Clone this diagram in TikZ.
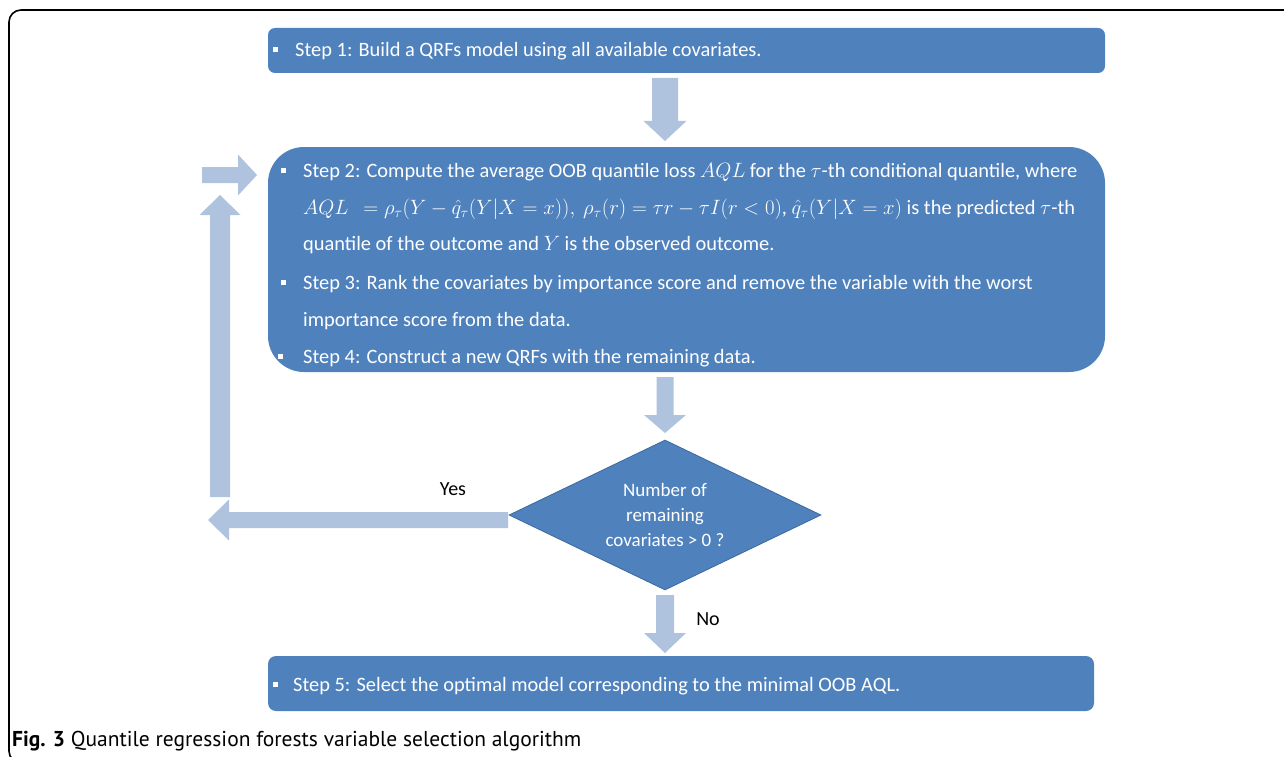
\documentclass[tikz,border=0pt]{standalone}
\usepackage{fontspec}
\setmainfont{Carlito}
\newfontfamily\capfont{PT Sans}
\definecolor{boxblue}{HTML}{4F81BD}
\definecolor{arrowblue}{HTML}{AFC3DF}
\definecolor{diaedge}{HTML}{3C6AA0}
\usetikzlibrary{shapes.geometric}
\tikzset{
  stepbox/.style={rectangle, fill=boxblue, inner sep=0pt},
  bulletsq/.style={rectangle, fill=white, minimum size=5pt, inner sep=0pt},
  steptext/.style={anchor=base west, inner sep=0pt, text=white},
  lbl/.style={inner sep=0pt, text=black},
  blk/.style={fill=arrowblue}
}
\newcommand\blkdown[6]{\fill[blk] (#1-#4,#2) -- (#1+#4,#2) -- (#1+#4,#3-#6) -- (#1+#5,#3-#6) -- (#1,#3) -- (#1-#5,#3-#6) -- (#1-#4,#3-#6) -- cycle;}
\newcommand\blkup[6]{\fill[blk] (#1-#4,#2) -- (#1+#4,#2) -- (#1+#4,#3+#6) -- (#1+#5,#3+#6) -- (#1,#3) -- (#1-#5,#3+#6) -- (#1-#4,#3+#6) -- cycle;}
\newcommand\blkright[6]{\fill[blk] (#2,#1-#4) -- (#2,#1+#4) -- (#3-#6,#1+#4) -- (#3-#6,#1+#5) -- (#3,#1) -- (#3-#6,#1-#5) -- (#3-#6,#1-#4) -- cycle;}
\newcommand\blkleft[6]{\fill[blk] (#2,#1-#4) -- (#2,#1+#4) -- (#3+#6,#1+#4) -- (#3+#6,#1+#5) -- (#3,#1) -- (#3+#6,#1-#5) -- (#3+#6,#1-#4) -- cycle;}
\begin{document}
\begin{tikzpicture}[x=1pt,y=-1pt,font=\fontsize{20.4}{24}\selectfont]
\useasboundingbox (0,0) rectangle (1284,757);
\begin{scope}
\clip (0,0) rectangle (1284,757);
\draw[line width=1.6pt, rounded corners=12pt] (9,10) rectangle (1320,763);
\end{scope}

% boxes
\node[stepbox, minimum width=837pt, minimum height=45pt, rounded corners=7pt] (s1) at (686.5,50.5) {};
\node[stepbox, minimum width=837pt, minimum height=225pt, rounded corners=36pt] (s2) at (686.5,259.5) {};
\node[stepbox, minimum width=826pt, minimum height=55pt, rounded corners=8pt] (s5) at (681,683.5) {};
\node[diamond, fill=boxblue, draw=diaedge, line width=0.8pt, minimum width=312pt, minimum height=150pt, aspect=2.08, inner sep=0pt, text=white, align=center, font=\fontsize{19}{25}\selectfont] (d) at (665,515) {Number of\\remaining\\covariates {>} 0 ?};

% step 1 text
\node[bulletsq] (b1) at (275.5,50) {};
\node[steptext] (t1) at (295,57) {Step 1: Build a QRFs model using all available covariates.};

% step 2..4 text
\node[bulletsq] (b2) at (283,170) {};
\node[steptext] (t2a) at (303,177) {Step 2: Compute the average OOB quantile loss $AQL$ for the $\tau$-th conditional quantile, where};
\node[steptext] (t2b) at (303,214) {$AQL\ \ = \rho_\tau(Y - \hat{q}_\tau(Y|X=x)),\ \rho_\tau(r) = \tau r - \tau I(r<0)$, $\hat{q}_\tau(Y|X=x)$ is the predicted $\tau$-th};
\node[steptext] (t2c) at (303,250) {quantile of the outcome and $Y$ is the observed outcome.};
\node[bulletsq] (b3) at (283,282) {};
\node[steptext] (t3a) at (303,289) {Step 3: Rank the covariates by importance score and remove the variable with the worst};
\node[steptext] (t3b) at (303,326) {importance score from the data.};
\node[bulletsq] (b4) at (280,356) {};
\node[steptext] (t4) at (303,363) {Step 4: Construct a new QRFs with the remaining data.};

% step 5 text
\node[bulletsq] (b5) at (275,684) {};
\node[steptext] (t5) at (293,691) {Step 5: Select the optimal model corresponding to the minimal OOB AQL.};

% block arrows
\blkdown{665}{78}{141}{13}{21.5}{20}
\blkdown{665}{377}{433}{8.5}{21}{18}
\blkdown{665}{595}{653}{9}{21}{20}
\blkleft{520}{508}{208}{8}{20.5}{21}
\blkup{220}{497}{195}{10}{20.5}{20}
\blkright{175}{202}{257}{8}{20.5}{19}

% labels
\node[lbl, font=\fontsize{20}{24}\selectfont] (yes) at (453,489) {Yes};
\node[lbl, font=\fontsize{20}{24}\selectfont] (no) at (708,619) {No};

% caption
\node[anchor=base west, inner sep=0pt, font=\capfont\fontsize{21.5}{26}\selectfont] (cap) at (12,746) {\textbf{Fig. 3} Quantile regression forests variable selection algorithm};
\end{tikzpicture}
\end{document}
